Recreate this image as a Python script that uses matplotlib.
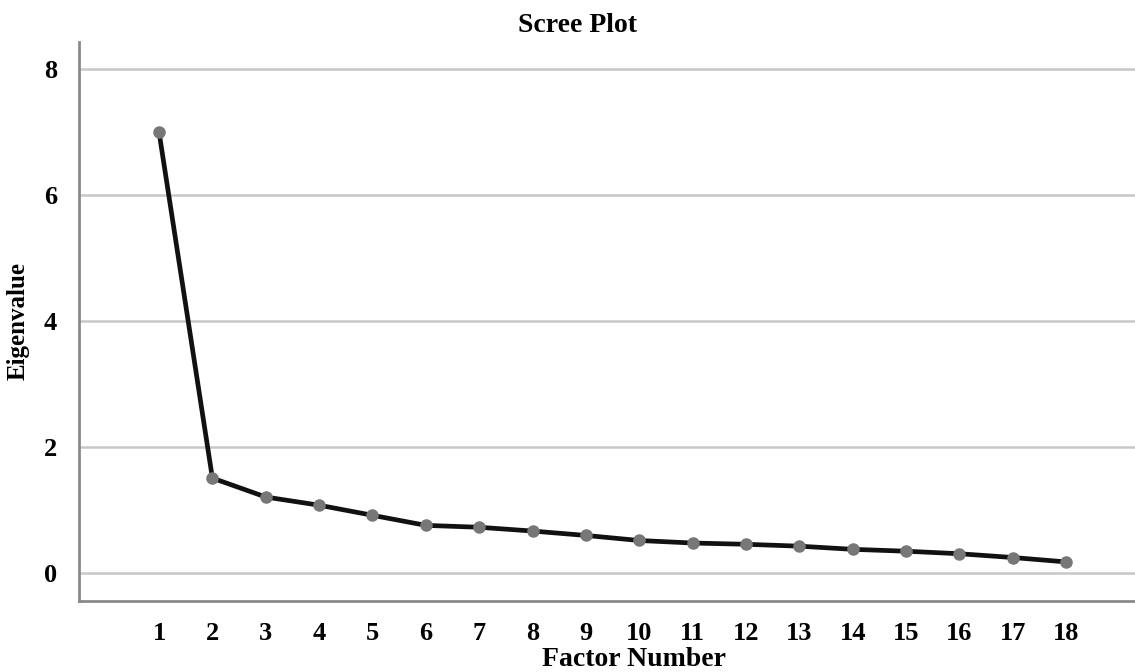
import matplotlib
matplotlib.use("Agg")
import matplotlib.pyplot as plt

factors = list(range(1, 19))
eigenvalues = [7.00, 1.51, 1.21, 1.08, 0.92, 0.76, 0.73, 0.67, 0.60, 0.52,
               0.48, 0.46, 0.43, 0.38, 0.35, 0.31, 0.25, 0.18]
y_ticks = [0, 2, 4, 6, 8]
x_labels = [str(f) for f in factors]

plt.rcParams['font.family'] = ['Liberation Serif', 'DejaVu Serif']

fig = plt.figure(figsize=(11.35, 6.72), dpi=100)
ax = fig.add_axes([79/1135, 1 - 601/672, 1 - 79/1135, (601 - 42)/672])

ax.plot(factors, eigenvalues, color='#111111', lw=3.4, zorder=3,
        marker='o', markersize=8, markerfacecolor='#777777',
        markeredgecolor='#777777', solid_joinstyle='round')

ax.set_xlim(-0.5, 19.29)
ax.set_ylim(-0.44, 8.43)
ax.set_yticks(y_ticks)
ax.set_xticks(factors)
ax.set_xticklabels(x_labels)
ax.yaxis.grid(True, color='#c8c8c8', lw=1.8)
ax.set_axisbelow(True)

for s in ['top', 'right']:
    ax.spines[s].set_visible(False)
for s in ['left', 'bottom']:
    ax.spines[s].set_color('#8a8a8a')
    ax.spines[s].set_linewidth(2)

ax.tick_params(axis='x', length=0, pad=15, labelsize=19)
ax.tick_params(axis='y', length=0, pad=16, labelsize=19)
for lbl in ax.get_xticklabels() + ax.get_yticklabels():
    lbl.set_fontweight('bold')

ax.set_xlabel('Factor Number', fontsize=20, fontweight='bold')
ax.xaxis.set_label_coords((634 - 79) / 1056, -(659 - 601) / 559)
ax.xaxis.label.set_va('center')
ax.set_ylabel('Eigenvalue', fontsize=18, fontweight='bold', labelpad=10)
fig.text(577/1135, 1 - 25/672, 'Scree Plot', ha='center', va='center',
         fontsize=20, fontweight='bold')

fig.savefig('out.png', dpi=100)
